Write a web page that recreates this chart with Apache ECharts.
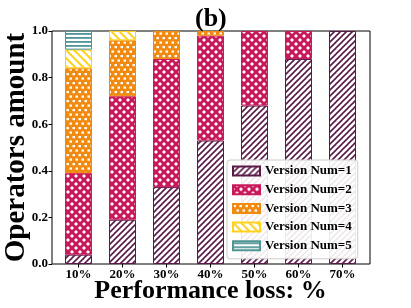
<!DOCTYPE html>
<html><head><meta charset="utf-8">
<script src="https://cdn.jsdelivr.net/npm/echarts@6/dist/echarts.min.js"></script>
<style>html,body{margin:0;padding:0;background:#fff}#c{width:411px;height:308px}</style>
</head><body><div id="c"></div>
<script>
const categories = ['10%', '20%', '30%', '40%', '50%', '60%', '70%'];
const seriesNames = ['Version Num=1', 'Version Num=2', 'Version Num=3', 'Version Num=4', 'Version Num=5'];
const v1 = [0.04, 0.19, 0.33, 0.53, 0.68, 0.88, 1.00];
const v2 = [0.35, 0.53, 0.55, 0.45, 0.32, 0.12, 0];
const v3 = [0.45, 0.24, 0.12, 0.02, 0, 0, 0];
const v4 = [0.08, 0.04, 0, 0, 0, 0, 0];
const v5 = [0.08, 0, 0, 0, 0, 0, 0];
const yTicks = [0.0, 0.2, 0.4, 0.6, 0.8, 1.0];
const titleText = '(b)';
const xName = 'Performance loss: %';
const yName = 'Operators amount';

const FONT = '"Liberation Serif", "Times New Roman", serif';
const colors = ['#5a1a48', '#c8195a', '#f08a10', '#ffd21f', '#4f9594'];

function makePattern(w, h, draw) {
  const c = document.createElement('canvas');
  c.width = w; c.height = h;
  const ctx = c.getContext('2d');
  draw(ctx, w, h);
  return { image: c, repeat: 'repeat' };
}
const patterns = [
  makePattern(6, 6, (ctx, w, h) => {
    ctx.fillStyle = '#fff'; ctx.fillRect(0, 0, w, h);
    ctx.strokeStyle = colors[0]; ctx.lineWidth = 1.6;
    [[0, h, w, 0], [-w / 2, h / 2, w / 2, -h / 2], [w / 2, 3 * h / 2, 3 * w / 2, h / 2]].forEach(l => {
      ctx.beginPath(); ctx.moveTo(l[0], l[1]); ctx.lineTo(l[2], l[3]); ctx.stroke();
    });
  }),
  makePattern(8, 8, (ctx, w, h) => {
    ctx.fillStyle = '#fff'; ctx.fillRect(0, 0, w, h);
    ctx.strokeStyle = colors[1]; ctx.lineWidth = 2.8;
    for (let k = -1; k <= 1; k++) {
      ctx.beginPath(); ctx.moveTo(k * w, h); ctx.lineTo(k * w + w, 0); ctx.stroke();
      ctx.beginPath(); ctx.moveTo(k * w, 0); ctx.lineTo(k * w + w, h); ctx.stroke();
    }
  }),
  makePattern(6, 9, (ctx, w, h) => {
    ctx.fillStyle = colors[2]; ctx.fillRect(0, 0, w, h);
    ctx.fillStyle = '#fff';
    ctx.fillRect(0.5, 1, 2.5, 2.2);
    ctx.fillRect(3.5, 5.5, 2.5, 2.2);
  }),
  makePattern(8, 8, (ctx, w, h) => {
    ctx.fillStyle = '#fff'; ctx.fillRect(0, 0, w, h);
    ctx.strokeStyle = colors[3]; ctx.lineWidth = 2;
    [[0, 0, w, h], [-w / 2, h / 2, w / 2, 3 * h / 2], [w / 2, -h / 2, 3 * w / 2, h / 2]].forEach(l => {
      ctx.beginPath(); ctx.moveTo(l[0], l[1]); ctx.lineTo(l[2], l[3]); ctx.stroke();
    });
  }),
  makePattern(4, 4, (ctx, w, h) => {
    ctx.fillStyle = '#fff'; ctx.fillRect(0, 0, w, h);
    ctx.fillStyle = colors[4]; ctx.fillRect(0, 1, w, 1.8);
  })
];

const allValues = [v1, v2, v3, v4, v5];
const series = allValues.map((vals, i) => ({
  name: seriesNames[i],
  type: 'bar',
  stack: 'total',
  barWidth: 27,
  xAxisIndex: 0, yAxisIndex: 0,
  data: vals.map(v => (v > 0 ? v : '-')),
  itemStyle: { color: patterns[i], borderColor: colors[i], borderWidth: 1 },
  emphasis: { disabled: true },
  animation: false
}));

const chart = echarts.init(document.getElementById('c'), null, { renderer: 'canvas' });
chart.setOption({
  animation: false,
  backgroundColor: '#fff',
  title: {
    text: titleText, left: 192, top: 3, padding: [3, 3, 3, 3],
    textStyle: { fontFamily: FONT, fontWeight: 'bold', fontSize: 26, color: '#000' }
  },
  grid: [
    { left: 56.5, right: 46.5, top: 31, bottom: 44, outerBoundsMode: 'none', containLabel: false },
    { left: 52, right: 41, top: 31, bottom: 44, outerBoundsMode: 'none', containLabel: false, show: true, borderColor: '#000', borderWidth: 1, backgroundColor: 'transparent' }
  ],
  xAxis: [
    {
      type: 'category', gridIndex: 0, data: categories,
      axisLine: { show: false },
      axisTick: { show: true, alignWithLabel: true, length: 3.5, lineStyle: { color: '#000' } },
      axisLabel: { fontFamily: FONT, fontWeight: 'bold', fontSize: 13, color: '#000', margin: 4 },
      name: xName, nameLocation: 'middle', nameGap: 14, nameMoveOverlap: false,
      nameTextStyle: { fontFamily: FONT, fontWeight: 'bold', fontSize: 26, color: '#000', verticalAlign: 'top' }
    },
    { type: 'category', gridIndex: 1, show: false, data: categories }
  ],
  yAxis: [
    {
      type: 'value', gridIndex: 0, min: 0, max: 1, interval: 0.2, offset: 4.5,
      axisLine: { show: false },
      axisTick: { show: true, length: 3.5, lineStyle: { color: '#000' } },
      splitLine: { show: false },
      axisLabel: { fontFamily: FONT, fontWeight: 'bold', fontSize: 13, color: '#000', margin: 4,
        formatter: v => (yTicks.find(t => Math.abs(t - v) < 1e-9) ?? v).toFixed(1) },
      name: yName, nameLocation: 'middle', nameGap: 21, nameRotate: 90, nameMoveOverlap: false,
      nameTextStyle: { fontFamily: FONT, fontWeight: 'bold', fontSize: 29, color: '#000' }
    },
    { type: 'value', gridIndex: 1, show: false, min: 0, max: 1 }
  ],
  legend: {
    orient: 'vertical', left: 227, top: 160,
    padding: [4, 6, 6, 5],
    itemWidth: 27, itemHeight: 9, itemGap: 4.7, itemTextGap: 15,
    backgroundColor: 'rgba(255,255,255,0.9)', borderColor: '#cccccc', borderWidth: 1, borderRadius: 3,
    icon: 'rect',
    data: seriesNames,
    textStyle: { fontFamily: FONT, fontWeight: 'bold', fontSize: 13, color: '#000', lineHeight: 14 }
  },
  series: series
});
</script>
</body></html>
